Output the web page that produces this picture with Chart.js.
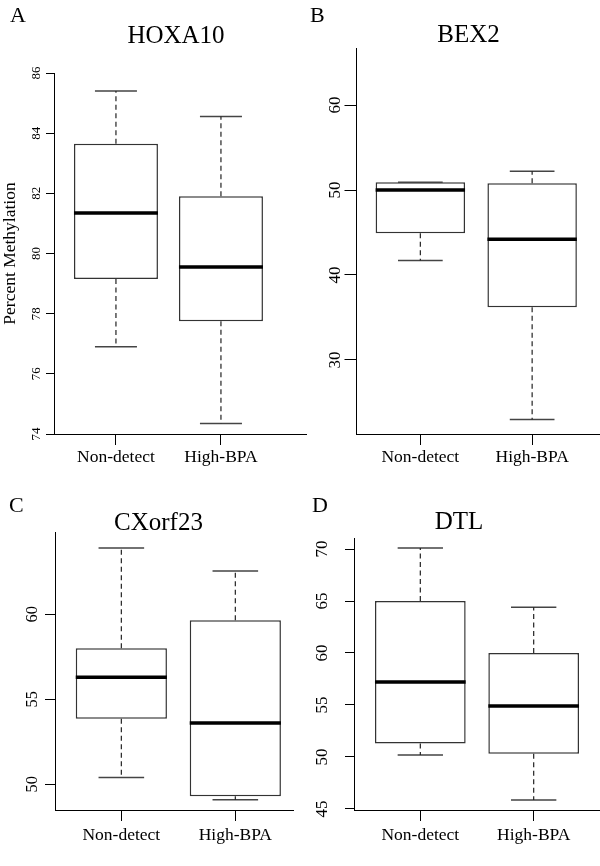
<!DOCTYPE html>
<html>
<head>
<meta charset="utf-8">
<script src="https://cdn.jsdelivr.net/npm/chart.js@4.4.1/dist/chart.umd.min.js"></script>
<style>
  body { margin: 0; background: #fff; }
  #wrap { position: relative; width: 600px; height: 866px; font-family: "Liberation Serif", "Times New Roman", serif; color: #000; }
  #wrap canvas { position: absolute; left: 0; top: 0; }
  .lbl { position: absolute; line-height: 1; white-space: nowrap; }
  .letter { font-size: 22px; }
  .title { font-size: 25px; transform: translateX(-50%); }
</style>
</head>
<body>
<div id="wrap"></div>
<script>
// groups on the x axis
const groups = ['Non-detect', 'High-BPA'];

// [lower whisker, Q1, median, Q3, upper whisker] for Non-detect and High-BPA
const hoxa10 = [[76.9, 79.15, 81.35, 83.65, 85.4], [74.35, 77.75, 79.55, 81.9, 84.55]];
const bex2 = [[41.7, 44.9, 50.0, 50.9, 50.9], [23.0, 36.2, 44.2, 50.8, 52.2]];
const cxorf23 = [[50.4, 53.85, 56.3, 58.0, 63.9], [49.1, 49.3, 53.6, 59.65, 62.55]];
const dtl = [[50.2, 51.3, 57.2, 65.0, 70.1], [45.85, 50.3, 54.9, 60.0, 64.4]];

// y tick labels
const hoxa10Ticks = [74, 76, 78, 80, 82, 84, 86];
const bex2Ticks = [30, 40, 50, 60];
const cxorf23Ticks = [50, 55, 60];
const dtlTicks = [45, 50, 55, 60, 65, 70];

const FONT = '"Liberation Serif", "Times New Roman", serif';

// panel layout (plot area in page pixels, axis ranges, text styles)
const panels = [
  { letter: 'A', gene: 'HOXA10', stats: hoxa10, ticks: hoxa10Ticks,
    area: { l: 54, r: 306, t: 73, b: 434 }, xMin: 0.41, xMax: 2.81, yMin: 74, yMax: 86,
    yFont: 13, yTick: 8, yPad: 3, yWidth: 54, xPad: 2, yTitle: 'Percent Methylation',
    letterPos: [10, 3.6], titlePos: [176, 22] },
  { letter: 'B', gene: 'BEX2', stats: bex2, ticks: bex2Ticks,
    area: { l: 356.5, r: 600, t: 48, b: 434 }, xMin: 0.429, xMax: 2.607, yMin: 21.29, yMax: 66.71,
    yFont: 17, yTick: 12, yPad: 0.5, yWidth: 50, xPad: 2,
    letterPos: [310, 3.6], titlePos: [468.5, 21] },
  { letter: 'C', gene: 'CXorf23', stats: cxorf23, ticks: cxorf23Ticks,
    area: { l: 55, r: 293, t: 532, b: 810 }, xMin: 0.418, xMax: 2.506, yMin: 48.49, yMax: 64.84,
    yFont: 16.5, yTick: 10, yPad: 4, yWidth: 50, xPad: 4,
    letterPos: [9, 493.6], titlePos: [158.5, 509] },
  { letter: 'D', gene: 'DTL', stats: dtl, ticks: dtlTicks,
    area: { l: 354, r: 600, t: 538, b: 810 }, xMin: 0.415, xMax: 2.585, yMin: 44.9, yMax: 71.06,
    yFont: 17, yTick: 9, yPad: 13.5, yWidth: 50, xPad: 4,
    letterPos: [312, 493.6], titlePos: [459, 508] }
];

const wrap = document.getElementById('wrap');

function addText(cls, text, x, y) {
  const d = document.createElement('div');
  d.className = 'lbl ' + cls;
  d.textContent = text;
  d.style.left = x + 'px';
  d.style.top = y + 'px';
  wrap.appendChild(d);
}

function makePanel(p) {
  const cv = document.createElement('canvas');
  cv.width = 600; cv.height = 866;
  cv.style.width = '600px'; cv.style.height = '866px';
  wrap.appendChild(cv);

  addText('letter', p.letter, p.letterPos[0], p.letterPos[1]);
  addText('title', p.gene, p.titlePos[0], p.titlePos[1]);

  const boxHalf = 0.4, capHalf = 0.2;
  const boxes = p.stats.map((s, i) => ({ x: i + 1, y: [s[1], s[3]] }));
  const whiskers = [], caps = [], medians = [];
  p.stats.forEach((s, i) => {
    const x = i + 1;
    whiskers.push({ x, y: s[3] }, { x, y: s[4] }, { x, y: null },
                  { x, y: s[1] }, { x, y: s[0] }, { x, y: null });
    caps.push({ x: x - capHalf, y: s[4] }, { x: x + capHalf, y: s[4] }, { x, y: null },
              { x: x - capHalf, y: s[0] }, { x: x + capHalf, y: s[0] }, { x, y: null });
    medians.push({ x: x - boxHalf, y: s[2] }, { x: x + boxHalf, y: s[2] }, { x, y: null });
  });

  const lineBase = { type: 'line', pointRadius: 0, fill: false, spanGaps: false, tension: 0 };
  const xHeight = 40;

  new Chart(cv, {
    type: 'bar',
    data: {
      datasets: [
        { data: boxes, backgroundColor: '#fff', borderColor: '#333', borderWidth: 1.5,
          borderSkipped: false, categoryPercentage: 1, barPercentage: 0.8, order: 3 },
        { ...lineBase, data: whiskers, borderColor: '#222', borderWidth: 1.2, borderDash: [5, 3.5], order: 2 },
        { ...lineBase, data: caps, borderColor: '#444', borderWidth: 1.5, order: 2 },
        { ...lineBase, data: medians, borderColor: '#000', borderWidth: 3.5, order: 1 }
      ]
    },
    options: {
      responsive: false,
      animation: false,
      layout: {
        padding: {
          left: p.area.l - p.yWidth,
          right: 600 - p.area.r,
          top: p.area.t,
          bottom: 866 - p.area.b - xHeight
        }
      },
      plugins: { legend: { display: false }, tooltip: { enabled: false } },
      scales: {
        x: {
          type: 'linear', min: p.xMin, max: p.xMax, offset: false,
          afterBuildTicks: s => { s.ticks = groups.map((g, i) => ({ value: i + 1 })); },
          afterFit: s => { s.height = xHeight; },
          grid: { display: true, offset: false, drawOnChartArea: false, drawTicks: true, tickLength: 11, tickColor: '#000', tickWidth: 1 },
          border: { display: true, color: '#000', width: 1 },
          ticks: {
            autoSkip: false, minRotation: 0, maxRotation: 0, padding: p.xPad, color: '#000',
            font: { family: FONT, size: 17.5 },
            callback: v => groups[v - 1]
          }
        },
        y: {
          min: p.yMin, max: p.yMax,
          afterBuildTicks: s => { s.ticks = p.ticks.map(v => ({ value: v })); },
          afterFit: s => { s.width = p.yWidth; },
          grid: { display: true, drawOnChartArea: false, drawTicks: true, tickLength: p.yTick, tickColor: '#000', tickWidth: 1 },
          border: { display: true, color: '#000', width: 1 },
          ticks: {
            autoSkip: false, minRotation: 90, maxRotation: 90, crossAlign: 'center',
            padding: p.yPad, color: '#000', font: { family: FONT, size: p.yFont }
          },
          title: p.yTitle
            ? { display: true, text: p.yTitle, color: '#000', padding: 0, font: { family: FONT, size: 17.5 } }
            : { display: false }
        }
      }
    }
  });
}

panels.forEach(makePanel);
</script>
</body>
</html>
